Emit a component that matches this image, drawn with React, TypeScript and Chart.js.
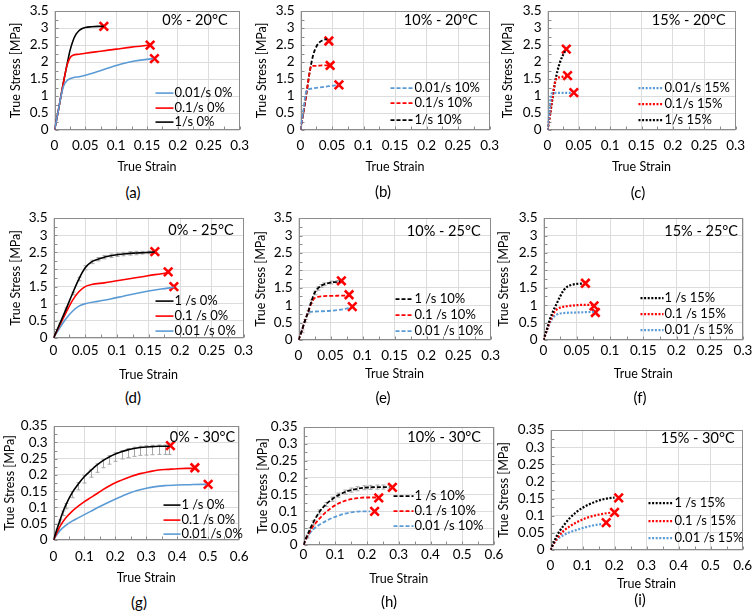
import { useEffect, useRef } from "react";
import { Chart, registerables } from "chart.js";
Chart.register(...registerables);

const FONT = "Lato, 'Open Sans', sans-serif";
const FS = 12.5;
const TFS = 13.5;
const BLUE = "#5b9bd5";
const RED = "#ff0000";
const BLACK = "#000000";

// tick values
const X_TICKS_03 = [0, 0.05, 0.1, 0.15, 0.2, 0.25, 0.3];
const Y_TICKS_35 = [0, 0.5, 1, 1.5, 2, 2.5, 3, 3.5];
const X_TICKS_06 = [0, 0.1, 0.2, 0.3, 0.4, 0.5, 0.6];
const Y_TICKS_035 = [0, 0.05, 0.1, 0.15, 0.2, 0.25, 0.3, 0.35];

// (a) 0% - 20°C
const aX1 = [0, 0.005, 0.01, 0.015, 0.02, 0.025, 0.03, 0.035, 0.04, 0.045, 0.05, 0.06, 0.07, 0.08];
const aY1 = [0, 0.45, 0.95, 1.45, 1.9, 2.33, 2.63, 2.82, 2.93, 2.99, 3.02, 3.04, 3.05, 3.05];
const aX01 = [0, 0.005, 0.01, 0.015, 0.02, 0.025, 0.03, 0.04, 0.05, 0.075, 0.1, 0.125, 0.155];
const aY01 = [0, 0.45, 0.95, 1.45, 1.88, 2.12, 2.2, 2.23, 2.26, 2.32, 2.38, 2.44, 2.5];
const aX001 = [0, 0.005, 0.01, 0.015, 0.02, 0.025, 0.03, 0.04, 0.05, 0.07, 0.09, 0.11, 0.13, 0.15, 0.16];
const aY001 = [0, 0.45, 0.95, 1.3, 1.45, 1.51, 1.54, 1.57, 1.61, 1.72, 1.84, 1.95, 2.03, 2.08, 2.1];
const aEndX = [0.08, 0.155, 0.162];
const aEndY = [3.05, 2.5, 2.1];

// (b) 10% - 20°C
const bX1 = [0, 0.005, 0.01, 0.015, 0.02, 0.025, 0.03, 0.035, 0.04, 0.042];
const bY1 = [0, 0.55, 1.15, 1.75, 2.2, 2.45, 2.58, 2.64, 2.67, 2.67];
const bX01 = [0, 0.005, 0.01, 0.015, 0.017, 0.025, 0.035, 0.045];
const bY01 = [0, 0.55, 1.15, 1.75, 1.88, 1.89, 1.9, 1.9];
const bX001 = [0, 0.004, 0.008, 0.01, 0.015, 0.03, 0.045, 0.06];
const bY001 = [0, 0.5, 1.05, 1.17, 1.21, 1.25, 1.29, 1.32];
const bEndX = [0.045, 0.047, 0.061];
const bEndY = [2.62, 1.9, 1.33];

// (c) 15% - 20°C
const cX1 = [0, 0.004, 0.008, 0.012, 0.016, 0.02, 0.024, 0.028];
const cY1 = [0, 0.45, 0.95, 1.4, 1.75, 2.0, 2.18, 2.32];
const cX01 = [0, 0.004, 0.008, 0.012, 0.015, 0.02, 0.025, 0.03];
const cY01 = [0, 0.45, 0.95, 1.4, 1.52, 1.55, 1.57, 1.59];
const cX001 = [0, 0.003, 0.005, 0.007, 0.015, 0.03, 0.04];
const cY001 = [0, 0.5, 0.95, 1.08, 1.09, 1.09, 1.09];
const cEndX = [0.03, 0.032, 0.042];
const cEndY = [2.38, 1.6, 1.1];

// (d) 0% - 25°C
const dX1 = [0, 0.01, 0.02, 0.03, 0.04, 0.05, 0.06, 0.07, 0.08, 0.09, 0.1, 0.11, 0.12, 0.13, 0.14, 0.15, 0.16];
const dY1 = [0, 0.42, 0.85, 1.3, 1.72, 2.05, 2.22, 2.3, 2.36, 2.4, 2.43, 2.45, 2.47, 2.48, 2.49, 2.5, 2.51];
const dErr1 = [0, 0.02, 0.03, 0.04, 0.05, 0.06, 0.05, 0.05, 0.05, 0.05, 0.05, 0.05, 0.05, 0.05, 0.04, 0.04, 0.04];
const dX01 = [0, 0.01, 0.02, 0.03, 0.04, 0.05, 0.06, 0.08, 0.1, 0.12, 0.14, 0.16, 0.18];
const dY01 = [0, 0.38, 0.75, 1.1, 1.35, 1.5, 1.56, 1.61, 1.67, 1.73, 1.79, 1.85, 1.9];
const dX001 = [0, 0.01, 0.02, 0.03, 0.04, 0.05, 0.07, 0.09, 0.11, 0.13, 0.15, 0.17, 0.19];
const dY001 = [0, 0.3, 0.57, 0.78, 0.93, 1.0, 1.07, 1.14, 1.22, 1.3, 1.37, 1.43, 1.48];
const dEndX = [0.16, 0.181, 0.19];
const dEndY = [2.52, 1.93, 1.5];

// (e) 10% - 25°C
const eX1 = [0, 0.005, 0.01, 0.015, 0.02, 0.025, 0.03, 0.035, 0.04, 0.05, 0.06, 0.065];
const eY1 = [0, 0.25, 0.55, 0.8, 1.1, 1.35, 1.48, 1.55, 1.6, 1.65, 1.67, 1.68];
const eErr1 = [0, 0.04, 0.04, 0.05, 0.05, 0.05, 0.05, 0.04, 0.04, 0.04, 0.04, 0.04];
const eX01 = [0, 0.005, 0.01, 0.015, 0.02, 0.025, 0.03, 0.04, 0.06, 0.077];
const eY01 = [0, 0.25, 0.55, 0.8, 1.05, 1.2, 1.24, 1.26, 1.27, 1.28];
const eX001 = [0, 0.005, 0.01, 0.015, 0.02, 0.03, 0.05, 0.07, 0.08];
const eY001 = [0, 0.28, 0.55, 0.78, 0.81, 0.82, 0.84, 0.88, 0.92];
const eEndX = [0.067, 0.079, 0.084];
const eEndY = [1.7, 1.3, 0.96];

// (f) 15% - 25°C
const fX1 = [0, 0.005, 0.01, 0.015, 0.02, 0.025, 0.03, 0.035, 0.04, 0.05, 0.06];
const fY1 = [0, 0.3, 0.62, 0.85, 1.05, 1.25, 1.42, 1.52, 1.57, 1.61, 1.62];
const fX01 = [0, 0.005, 0.01, 0.015, 0.02, 0.025, 0.035, 0.05, 0.06, 0.073];
const fY01 = [0, 0.28, 0.55, 0.76, 0.88, 0.93, 0.97, 1.0, 1.01, 1.01];
const fX001 = [0, 0.005, 0.01, 0.015, 0.02, 0.025, 0.035, 0.05, 0.065, 0.076];
const fY001 = [0, 0.28, 0.5, 0.66, 0.73, 0.76, 0.78, 0.79, 0.8, 0.81];
const fEndX = [0.063, 0.076, 0.078];
const fEndY = [1.63, 0.98, 0.79];

// (g) 0% - 30°C
const gX1 = [0, 0.01, 0.02, 0.03, 0.04, 0.06, 0.08, 0.1, 0.12, 0.14, 0.16, 0.18, 0.2, 0.22, 0.24, 0.26, 0.28, 0.3, 0.32, 0.34, 0.36, 0.375];
const gY1 = [0, 0.03, 0.058, 0.085, 0.108, 0.145, 0.172, 0.195, 0.213, 0.23, 0.244, 0.255, 0.264, 0.271, 0.277, 0.281, 0.284, 0.286, 0.287, 0.288, 0.288, 0.288];
const gErrDown1 = [0, 0.005, 0.008, 0.01, 0.012, 0.015, 0.018, 0.02, 0.02, 0.022, 0.022, 0.022, 0.022, 0.022, 0.024, 0.024, 0.024, 0.025, 0.025, 0.025, 0.025, 0.025];
const gErrUp1 = [0, 0.003, 0.004, 0.004, 0.004, 0.004, 0.004, 0.004, 0.004, 0.004, 0.004, 0.004, 0.004, 0.004, 0.004, 0.004, 0.004, 0.004, 0.004, 0.004, 0.004, 0.004];
const gX01 = [0, 0.01, 0.02, 0.04, 0.06, 0.08, 0.1, 0.12, 0.14, 0.16, 0.18, 0.2, 0.22, 0.25, 0.28, 0.31, 0.34, 0.37, 0.4, 0.43, 0.455];
const gY01 = [0, 0.02, 0.04, 0.068, 0.088, 0.104, 0.118, 0.13, 0.142, 0.155, 0.166, 0.176, 0.184, 0.195, 0.204, 0.21, 0.215, 0.217, 0.219, 0.22, 0.22];
const gX001 = [0, 0.01, 0.02, 0.04, 0.06, 0.08, 0.1, 0.12, 0.15, 0.18, 0.21, 0.24, 0.27, 0.3, 0.33, 0.36, 0.4, 0.44, 0.48, 0.495];
const gY001 = [0, 0.015, 0.028, 0.045, 0.058, 0.068, 0.078, 0.088, 0.103, 0.117, 0.13, 0.142, 0.152, 0.159, 0.164, 0.167, 0.169, 0.17, 0.171, 0.171];
const gEndX = [0.378, 0.457, 0.5];
const gEndY = [0.29, 0.222, 0.171];

// (h) 10% - 30°C
const hX1 = [0, 0.01, 0.02, 0.03, 0.05, 0.07, 0.09, 0.11, 0.13, 0.15, 0.17, 0.19, 0.21, 0.23, 0.25, 0.27];
const hY1 = [0, 0.025, 0.046, 0.066, 0.098, 0.12, 0.136, 0.148, 0.157, 0.163, 0.167, 0.17, 0.171, 0.172, 0.172, 0.172];
const hErr1 = [0, 0.004, 0.005, 0.006, 0.006, 0.006, 0.006, 0.006, 0.006, 0.006, 0.006, 0.006, 0.006, 0.006, 0.006, 0.006];
const hX01 = [0, 0.01, 0.02, 0.03, 0.05, 0.07, 0.09, 0.11, 0.13, 0.15, 0.17, 0.19, 0.21, 0.23];
const hY01 = [0, 0.022, 0.04, 0.055, 0.078, 0.097, 0.112, 0.123, 0.131, 0.136, 0.139, 0.141, 0.141, 0.141];
const hX001 = [0, 0.01, 0.02, 0.03, 0.05, 0.07, 0.09, 0.11, 0.13, 0.15, 0.17, 0.19, 0.21];
const hY001 = [0, 0.02, 0.035, 0.046, 0.06, 0.071, 0.08, 0.087, 0.093, 0.097, 0.099, 0.1, 0.1];
const hEndX = [0.28, 0.237, 0.224];
const hEndY = [0.171, 0.14, 0.1];

// (i) 15% - 30°C
const iX1 = [0, 0.01, 0.02, 0.04, 0.06, 0.08, 0.1, 0.12, 0.14, 0.16, 0.18, 0.2];
const iY1 = [0, 0.022, 0.042, 0.07, 0.093, 0.11, 0.123, 0.133, 0.141, 0.147, 0.151, 0.153];
const iX01 = [0, 0.01, 0.02, 0.04, 0.06, 0.08, 0.1, 0.12, 0.14, 0.16, 0.18, 0.19];
const iY01 = [0, 0.018, 0.033, 0.055, 0.069, 0.08, 0.089, 0.096, 0.101, 0.105, 0.108, 0.109];
const iX001 = [0, 0.01, 0.02, 0.04, 0.06, 0.08, 0.1, 0.12, 0.14, 0.16];
const iY001 = [0, 0.018, 0.03, 0.043, 0.052, 0.058, 0.064, 0.069, 0.073, 0.076];
const iEndX = [0.213, 0.2, 0.174];
const iEndY = [0.152, 0.11, 0.08];

type Style = "solid" | "dash" | "dot";
type Series = {
  x: number[];
  y: number[];
  color: string;
  style: Style;
  label: string;
  errUp?: number[];
  errDown?: number[];
};
type Panel = {
  tag: string;
  title: string;
  L: number; R: number; T: number; B: number;
  yt: number; xt: number; tp: number;
  lx: number; ly: number;
  xMax: number; yMax: number;
  xTicks: number[]; yTicks: number[];
  leg: { x0: number; x1: number; rows: number[] };
  tDx: number; tDy: number;
  series: Series[];
  endX: number[]; endY: number[];
};

const S = (x: number[], y: number[], color: string, style: Style, label: string, errUp?: number[], errDown?: number[]): Series =>
  ({ x, y, color, style, label, errUp, errDown });

const PANELS: Panel[] = [
  {
    tag: "(a)", title: "0% - 20°C", L: 54, R: 242, T: 7, B: 130, yt: 15, xt: 166, tp: 8, lx: 133, ly: 192,
    xMax: 0.3, yMax: 3.5, xTicks: X_TICKS_03, yTicks: Y_TICKS_35, leg: { x0: 101, x1: 119, rows: [82, 97, 111] }, tDx: 12, tDy: 9,
    series: [S(aX001, aY001, BLUE, "solid", "0.01/s 0%"), S(aX01, aY01, RED, "solid", "0.1/s 0%"), S(aX1, aY1, BLACK, "solid", "1/s 0%")],
    endX: aEndX, endY: aEndY,
  },
  {
    tag: "(b)", title: "10% - 20°C", L: 300, R: 492, T: 7, B: 130, yt: 261, xt: 166, tp: 8, lx: 383, ly: 191,
    xMax: 0.3, yMax: 3.5, xTicks: X_TICKS_03, yTicks: Y_TICKS_35, leg: { x0: 90, x1: 113, rows: [77, 92, 109] }, tDx: 12, tDy: 9,
    series: [S(bX001, bY001, BLUE, "dash", "0.01/s 10%"), S(bX01, bY01, RED, "dash", "0.1/s 10%"), S(bX1, bY1, BLACK, "dash", "1/s 10%")],
    endX: bEndX, endY: bEndY,
  },
  {
    tag: "(c)", title: "15% - 20°C", L: 547, R: 738, T: 7, B: 130, yt: 507, xt: 166, tp: 8, lx: 638, ly: 192,
    xMax: 0.3, yMax: 3.5, xTicks: X_TICKS_03, yTicks: Y_TICKS_35, leg: { x0: 91, x1: 116, rows: [77, 93, 109] }, tDx: 10, tDy: 9,
    series: [S(cX001, cY001, BLUE, "dot", "0.01/s 15%"), S(cX01, cY01, RED, "dot", "0.1/s 15%"), S(cX1, cY1, BLACK, "dot", "1/s 15%")],
    endX: cEndX, endY: cEndY,
  },
  {
    tag: "(d)", title: "0% - 25°C", L: 53, R: 243, T: 214, B: 338, yt: 15, xt: 374, tp: 5, lx: 133, ly: 397,
    xMax: 0.3, yMax: 3.5, xTicks: X_TICKS_03, yTicks: Y_TICKS_35, leg: { x0: 102, x1: 120, rows: [83, 98, 113] }, tDx: 10, tDy: 12,
    series: [S(dX1, dY1, BLACK, "solid", "1 /s 0%", dErr1, dErr1), S(dX01, dY01, RED, "solid", "0.1 /s 0%"), S(dX001, dY001, BLUE, "solid", "0.01 /s 0%")],
    endX: dEndX, endY: dEndY,
  },
  {
    tag: "(e)", title: "10% - 25°C", L: 298, R: 493, T: 214, B: 340, yt: 260, xt: 373, tp: 8, lx: 383, ly: 397,
    xMax: 0.3, yMax: 3.5, xTicks: X_TICKS_03, yTicks: Y_TICKS_35, leg: { x0: 97, x1: 115, rows: [81, 97, 113] }, tDx: 10, tDy: 13,
    series: [S(eX1, eY1, BLACK, "dash", "1 /s 10%", eErr1, eErr1), S(eX01, eY01, RED, "dash", "0.1 /s 10%"), S(eX001, eY001, BLUE, "dash", "0.01 /s 10%")],
    endX: eEndX, endY: eEndY,
  },
  {
    tag: "(f)", title: "15% - 25°C", L: 543, R: 742, T: 214, B: 340, yt: 503, xt: 373, tp: 3, lx: 640, ly: 397,
    xMax: 0.3, yMax: 3.5, xTicks: X_TICKS_03, yTicks: Y_TICKS_35, leg: { x0: 97, x1: 120, rows: [80, 96, 112] }, tDx: 5, tDy: 13,
    series: [S(fX1, fY1, BLACK, "dot", "1 /s 15%"), S(fX01, fY01, RED, "dot", "0.1 /s 15%"), S(fX001, fY001, BLUE, "dot", "0.01 /s 15%")],
    endX: fEndX, endY: fEndY,
  },
  {
    tag: "(g)", title: "0% - 30°C", L: 53, R: 242, T: 422, B: 540, yt: 9, xt: 577, tp: 8.5, lx: 139, ly: 602,
    xMax: 0.6, yMax: 0.35, xTicks: X_TICKS_06, yTicks: Y_TICKS_035, leg: { x0: 110, x1: 127, rows: [79, 94, 108] }, tDx: 4, tDy: 11,
    series: [S(gX1, gY1, BLACK, "solid", "1 /s 0%", gErrUp1, gErrDown1), S(gX01, gY01, RED, "solid", "0.1 /s 0%"), S(gX001, gY001, BLUE, "solid", "0.01 /s 0%")],
    endX: gEndX, endY: gEndY,
  },
  {
    tag: "(h)", title: "10% - 30°C", L: 303, R: 493, T: 423, B: 545, yt: 262, xt: 578, tp: 2, lx: 389, ly: 601,
    xMax: 0.6, yMax: 0.35, xTicks: X_TICKS_06, yTicks: Y_TICKS_035, leg: { x0: 90, x1: 110, rows: [69, 84, 99] }, tDx: 13, tDy: 10,
    series: [S(hX1, hY1, BLACK, "dash", "1 /s 10%", hErr1, hErr1), S(hX01, hY01, RED, "dash", "0.1 /s 10%"), S(hX001, hY001, BLUE, "dash", "0.01 /s 10%")],
    endX: hEndX, endY: hEndY,
  },
  {
    tag: "(i)", title: "15% - 30°C", L: 550, R: 745, T: 426, B: 550, yt: 503, xt: 583, tp: 8, lx: 640, ly: 599,
    xMax: 0.6, yMax: 0.35, xTicks: X_TICKS_06, yTicks: Y_TICKS_035, leg: { x0: 98, x1: 123, rows: [73, 91, 108] }, tDx: 8, tDy: 8,
    series: [S(iX1, iY1, BLACK, "dot", "1 /s 15%"), S(iX01, iY01, RED, "dot", "0.1 /s 15%"), S(iX001, iY001, BLUE, "dot", "0.01 /s 15%")],
    endX: iEndX, endY: iEndY,
  },
];

const dashFor = (s: Style) => (s === "dash" ? [4, 2] : s === "dot" ? [2, 1.6] : []);
const widthFor = (s: Style) => (s === "dash" ? 1.8 : s === "dot" ? 2.2 : 1.6);
const fmt = (v: any) => String(Math.round(Number(v) * 1000) / 1000);

const LH = FS * 1.2;
const PAD_T = 10;
const PAD_R = 14;

function geom(p: Panel) {
  const left = p.yt - LH / 2 - 2;
  const top = p.T - PAD_T;
  const width = Math.round(p.R + PAD_R - left);
  const height = Math.round(p.xt + LH / 2 + 2 - top);
  return { left, top, width, height, yBox: p.L - left, xBox: top + height - p.B };
}

function PanelChart({ p }: { p: Panel }) {
  const ref = useRef<HTMLCanvasElement>(null);
  const g = geom(p);
  useEffect(() => {
    if (!ref.current) return;
    const titleFont = { family: FONT, size: FS };
    const tickFont = { family: FONT, size: TFS };
    const datasets: any[] = p.series.map((s) => ({
      label: s.label,
      data: s.x.map((v, i) => ({ x: v, y: s.y[i] })),
      borderColor: s.color,
      backgroundColor: s.color,
      borderWidth: widthFor(s.style),
      borderDash: dashFor(s.style),
      pointRadius: 0,
      cubicInterpolationMode: "monotone",
      fill: false,
    }));
    datasets.push({
      label: "failure",
      data: p.endX.map((v, i) => ({ x: v, y: p.endY[i] })),
      showLine: false,
      pointStyle: "crossRot",
      pointRadius: 6,
      pointBorderWidth: 2.6,
      borderColor: RED,
      backgroundColor: RED,
      pointBorderColor: RED,
      clip: false,
    });
    const decor = {
      id: "decor",
      beforeDatasetsDraw(chart: any) {
        const { ctx, chartArea: a, scales } = chart;
        const xs = scales.x, ys = scales.y;
        ctx.save();
        // error bars
        ctx.strokeStyle = "#a6a6a6";
        ctx.lineWidth = 1;
        p.series.forEach((s) => {
          if (!s.errUp || !s.errDown) return;
          s.x.forEach((xv, i) => {
            const up = s.errUp![i], dn = s.errDown![i];
            if (!up && !dn) return;
            const px = Math.round(xs.getPixelForValue(xv)) + 0.5;
            const t = ys.getPixelForValue(s.y[i] + up);
            const b = ys.getPixelForValue(s.y[i] - dn);
            ctx.beginPath();
            ctx.moveTo(px, t); ctx.lineTo(px, b);
            ctx.moveTo(px - 2, t); ctx.lineTo(px + 2, t);
            ctx.moveTo(px - 2, b); ctx.lineTo(px + 2, b);
            ctx.stroke();
          });
        });
        // frame
        const l = Math.round(a.left) + 0.5, r = Math.round(a.right) - 0.5;
        const t = Math.round(a.top) + 0.5, b = Math.round(a.bottom) - 0.5;
        ctx.strokeStyle = "#8c8c8c";
        ctx.lineWidth = 1;
        ctx.strokeRect(l, t, r - l, b - t);
        // minor ticks
        ctx.beginPath();
        const ys2 = (p.yTicks[1] - p.yTicks[0]) / 2;
        for (let v = 0; v <= p.yMax + 1e-9; v += ys2) {
          const py = Math.round(ys.getPixelForValue(v)) + 0.5;
          ctx.moveTo(l, py); ctx.lineTo(l + 3, py);
        }
        const xs2 = (p.xTicks[1] - p.xTicks[0]) / 2;
        for (let v = 0; v <= p.xMax + 1e-9; v += xs2) {
          const px = Math.round(xs.getPixelForValue(v)) + 0.5;
          ctx.moveTo(px, b); ctx.lineTo(px, b - 3);
        }
        ctx.stroke();
        ctx.restore();
      },
      afterDraw(chart: any) {
        const { ctx, chartArea: a } = chart;
        ctx.save();
        // legend
        p.series.forEach((s, i) => {
          const yy = a.top + p.leg.rows[i];
          ctx.strokeStyle = s.color;
          ctx.lineWidth = widthFor(s.style);
          ctx.setLineDash(dashFor(s.style));
          ctx.beginPath();
          ctx.moveTo(a.left + p.leg.x0, yy);
          ctx.lineTo(a.left + p.leg.x1, yy);
          ctx.stroke();
          ctx.setLineDash([]);
          ctx.fillStyle = "#000";
          ctx.font = `13px ${FONT}`;
          ctx.textAlign = "left";
          ctx.textBaseline = "middle";
          ctx.fillText(s.label, a.left + p.leg.x1 + 1, yy);
        });
        // panel title
        ctx.font = `14.5px ${FONT}`;
        ctx.textAlign = "right";
        ctx.textBaseline = "middle";
        ctx.fillStyle = "#000";
        ctx.fillText(p.title, a.right - p.tDx, a.top + p.tDy);
        ctx.restore();
      },
    };
    const chart = new Chart(ref.current, {
      type: "line",
      data: { datasets },
      plugins: [decor],
      options: {
        animation: false,
        responsive: false,
        layout: { padding: { top: PAD_T, right: PAD_R, left: 0, bottom: 0 } },
        plugins: { legend: { display: false }, tooltip: { enabled: false } },
        scales: {
          x: {
            type: "linear",
            min: 0,
            max: p.xMax,
            afterBuildTicks: (s: any) => { s.ticks = p.xTicks.map((v) => ({ value: v })); },
            afterFit: (s: any) => { s.height = g.xBox; },
            grid: { color: "#dcdcdc", drawTicks: false, lineWidth: 1 },
            border: { display: false },
            ticks: { padding: p.tp, font: tickFont, color: "#000", callback: fmt, maxRotation: 0, autoSkip: false },
            title: { display: true, text: "True Strain", font: titleFont, color: "#000", padding: { top: 0, bottom: 2 } },
          },
          y: {
            type: "linear",
            min: 0,
            max: p.yMax,
            afterBuildTicks: (s: any) => { s.ticks = p.yTicks.map((v) => ({ value: v })); },
            afterFit: (s: any) => { s.width = g.yBox; },
            grid: { color: "#dcdcdc", drawTicks: false, lineWidth: 1 },
            border: { display: false },
            ticks: { padding: 6, font: tickFont, color: "#000", callback: fmt, autoSkip: false },
            title: { display: true, text: "True Stress [MPa]", font: titleFont, color: "#000", padding: { top: 2, bottom: 0 } },
          },
        },
      } as any,
    });
    return () => chart.destroy();
  }, [p]);
  return (
    <canvas
      ref={ref}
      width={g.width}
      height={g.height}
      style={{ position: "absolute", left: g.left, top: g.top, width: g.width, height: g.height }}
    />
  );
}

export default function App() {
  return (
    <div style={{ position: "absolute", left: 0, top: 0, width: 754, height: 611, overflow: "hidden", background: "#fff" }}>
      {PANELS.map((p) => (
        <PanelChart key={p.tag} p={p} />
      ))}
      {PANELS.map((p) => (
        <div
          key={"l" + p.tag}
          style={{
            position: "absolute",
            left: p.lx,
            top: p.ly,
            transform: "translate(-50%, -50%)",
            fontFamily: FONT,
            fontSize: 15,
            color: "#000",
            whiteSpace: "nowrap",
          }}
        >
          {p.tag}
        </div>
      ))}
    </div>
  );
}
